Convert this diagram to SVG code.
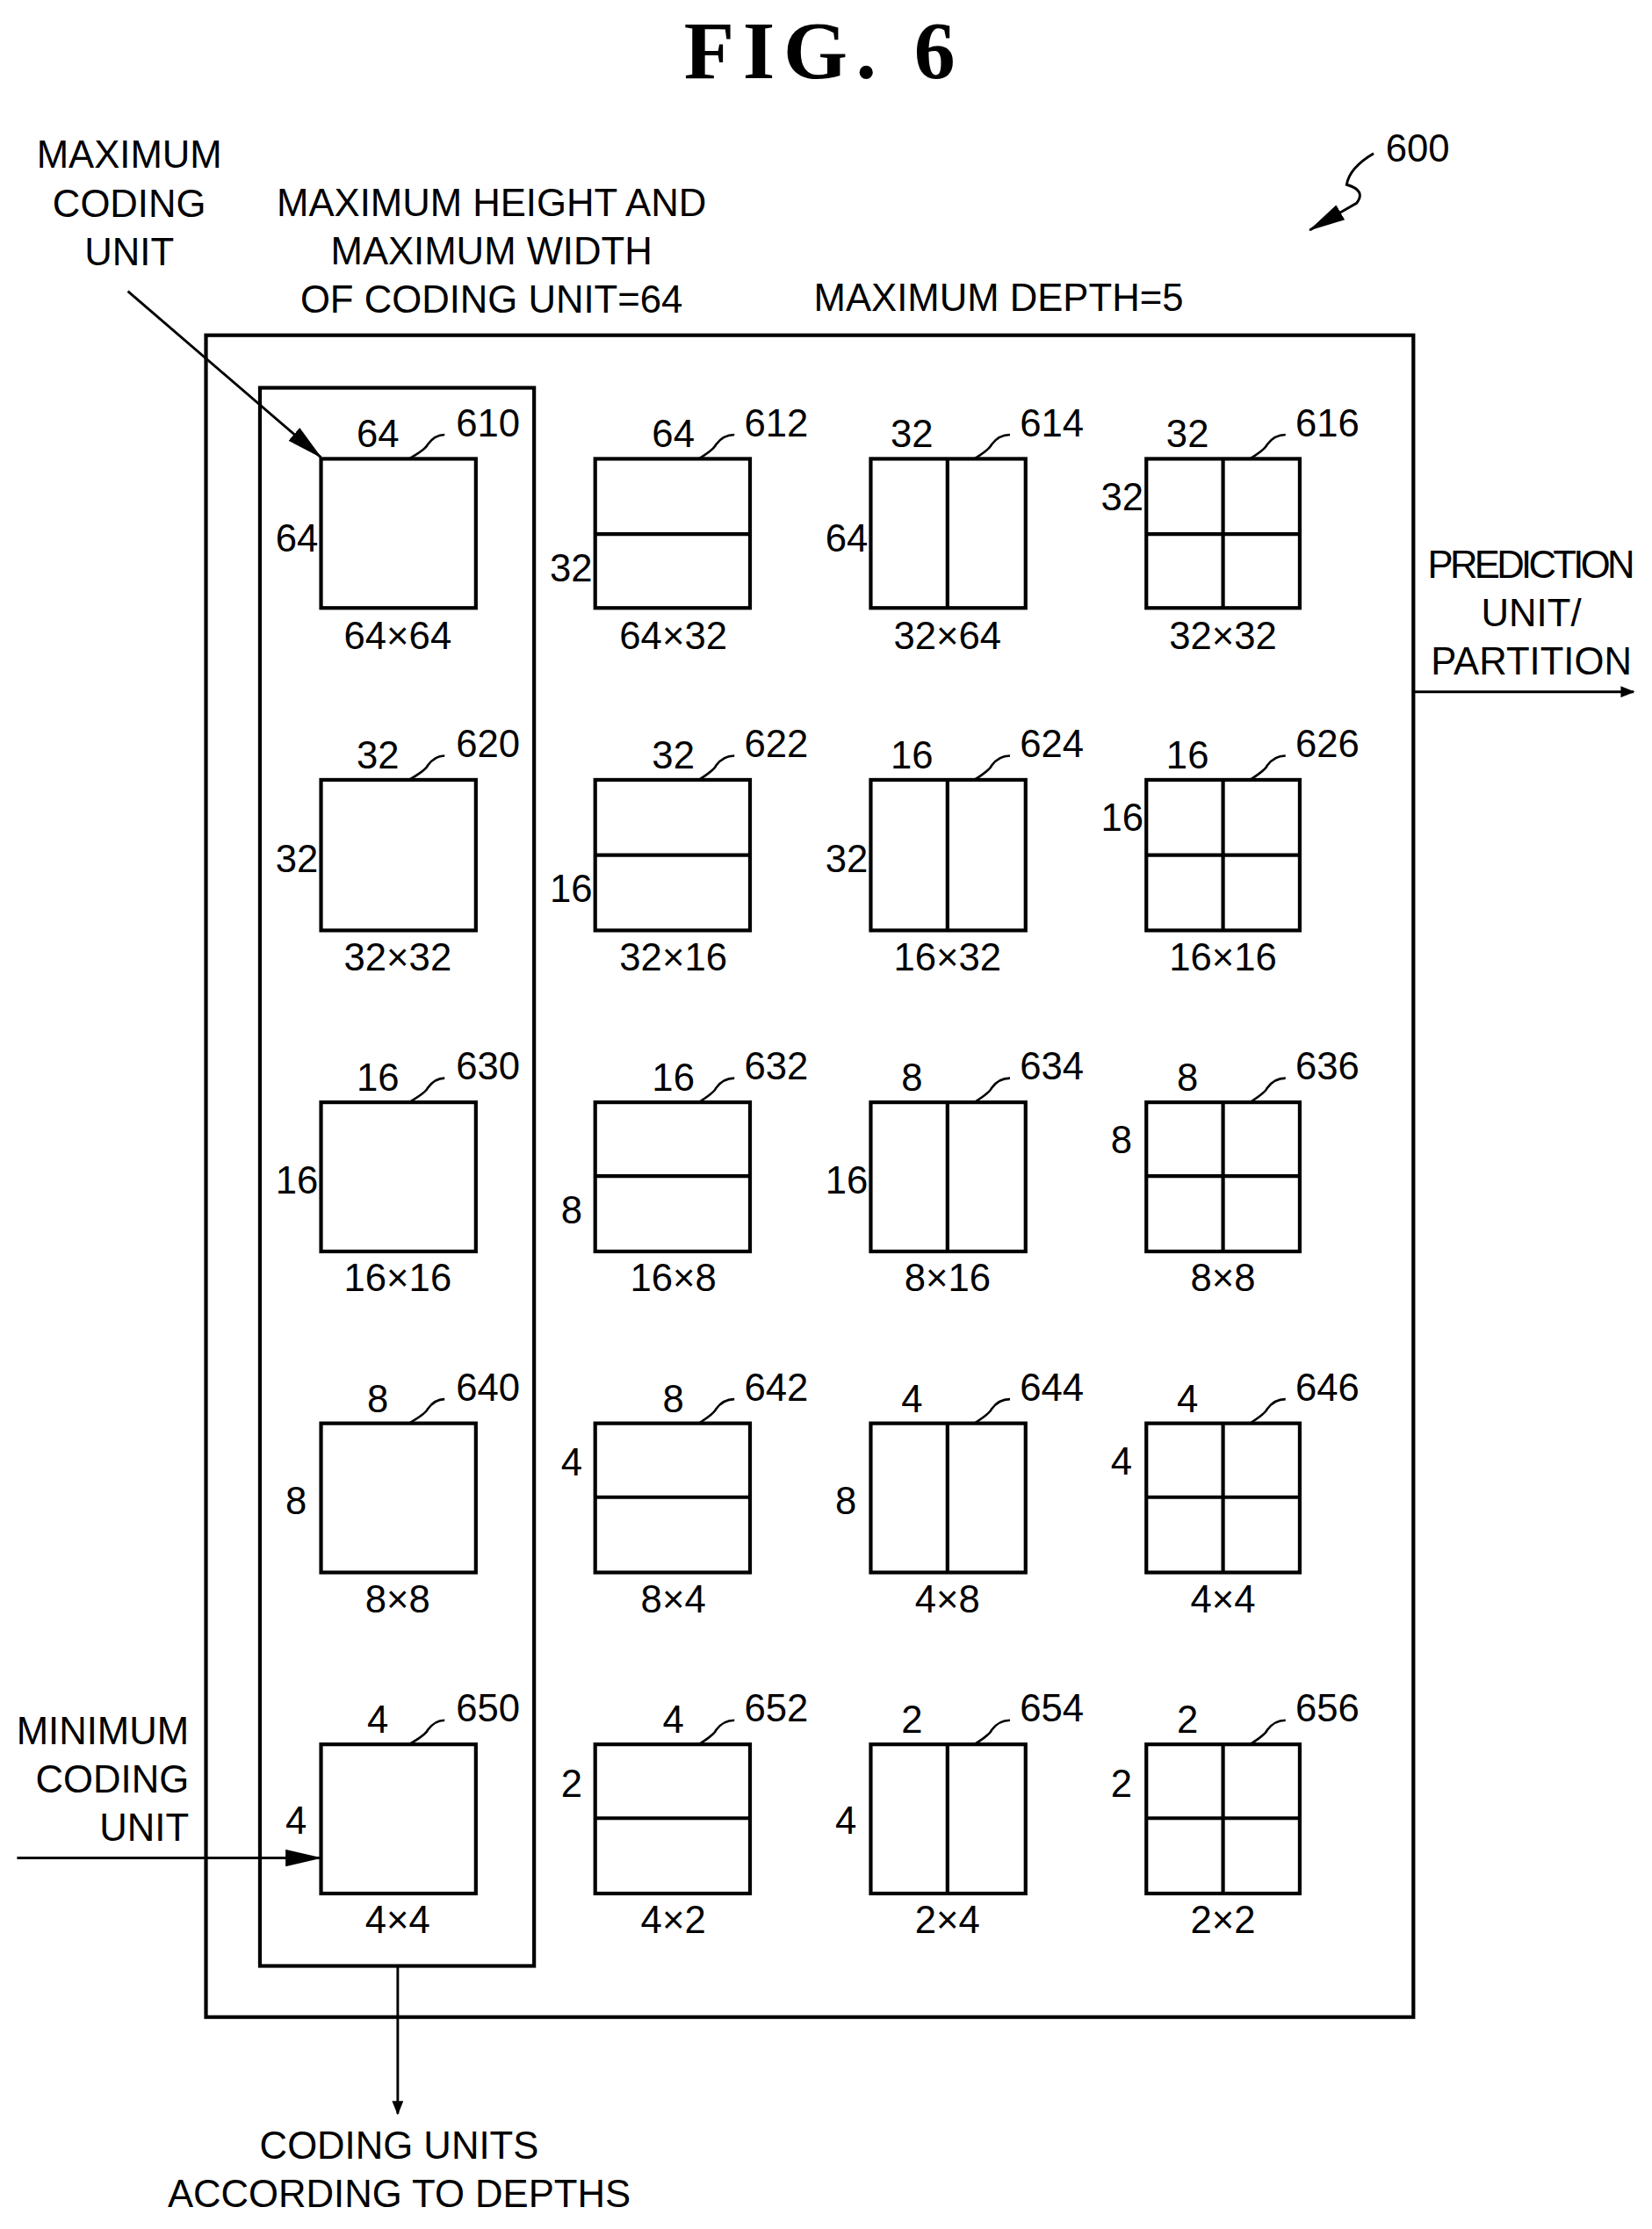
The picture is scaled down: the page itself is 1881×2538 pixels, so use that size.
<svg xmlns="http://www.w3.org/2000/svg" width="1881" height="2538" viewBox="0 0 1881 2538">
<style>
text{font-family:"Liberation Sans",Arial,sans-serif;font-size:27px;fill:#000}
.c{text-anchor:middle}.e{text-anchor:end}
.b{fill:none;stroke:#000;stroke-width:2.6}
.l{fill:none;stroke:#000;stroke-width:1.6}
.t{font-family:"Liberation Serif",serif;font-size:58px;font-weight:bold;letter-spacing:6px}
</style>
<defs><marker id="a" markerWidth="10" markerHeight="8" refX="9" refY="4" orient="auto" markerUnits="userSpaceOnUse"><path d="M0,0 L10,4 L0,8 Z" fill="#000"/></marker>
<marker id="A" markerWidth="26" markerHeight="12" refX="25" refY="6" orient="auto" markerUnits="userSpaceOnUse"><path d="M0,0 L26,6 L0,12 Z" fill="#000"/></marker></defs>
<rect width="1881" height="2538" fill="#fff"/>
<g transform="scale(1.6174)">
<text class="t c" x="580" y="55">FIG. 6</text>
<g id="labels">
<text class="c" x="91" y="118">MAXIMUM</text><text class="c" x="91" y="153">CODING</text><text class="c" x="91" y="187">UNIT</text>
<text class="c" x="346" y="152">MAXIMUM HEIGHT AND</text><text class="c" x="346" y="186">MAXIMUM WIDTH</text><text class="c" x="346" y="220">OF CODING UNIT=64</text>
<text class="c" x="703" y="219">MAXIMUM DEPTH=5</text>
<text class="c" x="998" y="114">600</text>
<text class="c" x="1078" y="407" textLength="146">PREDICTION</text><text class="c" x="1078" y="441">UNIT/</text><text class="c" x="1078" y="475">PARTITION</text>
<text class="e" x="133" y="1228">MINIMUM</text><text class="e" x="133" y="1262">CODING</text><text class="e" x="133" y="1296">UNIT</text>
<text class="c" x="281" y="1520">CODING UNITS</text><text class="c" x="281" y="1554">ACCORDING TO DEPTHS</text>
</g>
<g id="frames">
<rect class="b" x="145" y="236" width="850" height="1184"/>
<rect class="b" x="183" y="273" width="193" height="1111"/>
</g>
<g id="connectors" fill="none" stroke="#000" stroke-width="1.8">
<path d="M90,205 L226,322" marker-end="url(#A)"/>
<path d="M995,487 L1150,487" marker-end="url(#a)"/>
<path d="M12,1308 L226,1308" marker-end="url(#A)"/>
<path d="M280,1384 L280,1488" marker-end="url(#a)"/>
<path d="M967,108 Q950,118 948,130 Q962,134 955,143 L922,162" marker-end="url(#A)"/>
</g>
<g id="units">
<g id="u610"><rect class="b" x="226" y="323" width="109" height="105"/><text class="c" x="266" y="315">64</text><text x="321" y="307">610</text><path class="l" d="M288,323 Q300,316 301,313 Q306,306 313,306"/><text class="e" x="224" y="388">64</text><text class="c" x="280" y="457">64×64</text></g>
<g id="u612"><rect class="b" x="419" y="323" width="109" height="105"/><line class="b" x1="419" y1="376" x2="528" y2="376"/><text class="c" x="474" y="315">64</text><text x="524" y="307">612</text><path class="l" d="M492,323 Q503,316 504,313 Q509,306 517,306"/><text class="e" x="417" y="409">32</text><text class="c" x="474" y="457">64×32</text></g>
<g id="u614"><rect class="b" x="613" y="323" width="109" height="105"/><line class="b" x1="667" y1="323" x2="667" y2="428"/><text class="c" x="642" y="315">32</text><text x="718" y="307">614</text><path class="l" d="M686,323 Q697,316 698,313 Q703,306 711,306"/><text class="e" x="611" y="388">64</text><text class="c" x="667" y="457">32×64</text></g>
<g id="u616"><rect class="b" x="807" y="323" width="108" height="105"/><line class="b" x1="861" y1="323" x2="861" y2="428"/><line class="b" x1="807" y1="376" x2="915" y2="376"/><text class="c" x="836" y="315">32</text><text x="912" y="307">616</text><path class="l" d="M880,323 Q891,316 892,313 Q897,306 905,306"/><text class="e" x="805" y="359">32</text><text class="c" x="861" y="457">32×32</text></g>
<g id="u620"><rect class="b" x="226" y="549" width="109" height="106"/><text class="c" x="266" y="541">32</text><text x="321" y="533">620</text><path class="l" d="M288,549 Q300,542 301,539 Q306,532 313,532"/><text class="e" x="224" y="614">32</text><text class="c" x="280" y="683">32×32</text></g>
<g id="u622"><rect class="b" x="419" y="549" width="109" height="106"/><line class="b" x1="419" y1="602" x2="528" y2="602"/><text class="c" x="474" y="541">32</text><text x="524" y="533">622</text><path class="l" d="M492,549 Q503,542 504,539 Q509,532 517,532"/><text class="e" x="417" y="635">16</text><text class="c" x="474" y="683">32×16</text></g>
<g id="u624"><rect class="b" x="613" y="549" width="109" height="106"/><line class="b" x1="667" y1="549" x2="667" y2="655"/><text class="c" x="642" y="541">16</text><text x="718" y="533">624</text><path class="l" d="M686,549 Q697,542 698,539 Q703,532 711,532"/><text class="e" x="611" y="614">32</text><text class="c" x="667" y="683">16×32</text></g>
<g id="u626"><rect class="b" x="807" y="549" width="108" height="106"/><line class="b" x1="861" y1="549" x2="861" y2="655"/><line class="b" x1="807" y1="602" x2="915" y2="602"/><text class="c" x="836" y="541">16</text><text x="912" y="533">626</text><path class="l" d="M880,549 Q891,542 892,539 Q897,532 905,532"/><text class="e" x="805" y="585">16</text><text class="c" x="861" y="683">16×16</text></g>
<g id="u630"><rect class="b" x="226" y="776" width="109" height="105"/><text class="c" x="266" y="768">16</text><text x="321" y="760">630</text><path class="l" d="M288,776 Q300,769 301,766 Q306,759 313,759"/><text class="e" x="224" y="840">16</text><text class="c" x="280" y="909">16×16</text></g>
<g id="u632"><rect class="b" x="419" y="776" width="109" height="105"/><line class="b" x1="419" y1="828" x2="528" y2="828"/><text class="c" x="474" y="768">16</text><text x="524" y="760">632</text><path class="l" d="M492,776 Q503,769 504,766 Q509,759 517,759"/><text class="e" x="410" y="861">8</text><text class="c" x="474" y="909">16×8</text></g>
<g id="u634"><rect class="b" x="613" y="776" width="109" height="105"/><line class="b" x1="667" y1="776" x2="667" y2="881"/><text class="c" x="642" y="768">8</text><text x="718" y="760">634</text><path class="l" d="M686,776 Q697,769 698,766 Q703,759 711,759"/><text class="e" x="611" y="840">16</text><text class="c" x="667" y="909">8×16</text></g>
<g id="u636"><rect class="b" x="807" y="776" width="108" height="105"/><line class="b" x1="861" y1="776" x2="861" y2="881"/><line class="b" x1="807" y1="828" x2="915" y2="828"/><text class="c" x="836" y="768">8</text><text x="912" y="760">636</text><path class="l" d="M880,776 Q891,769 892,766 Q897,759 905,759"/><text class="e" x="797" y="812">8</text><text class="c" x="861" y="909">8×8</text></g>
<g id="u640"><rect class="b" x="226" y="1002" width="109" height="105"/><text class="c" x="266" y="994">8</text><text x="321" y="986">640</text><path class="l" d="M288,1002 Q300,995 301,992 Q306,985 313,985"/><text class="e" x="216" y="1066">8</text><text class="c" x="280" y="1135">8×8</text></g>
<g id="u642"><rect class="b" x="419" y="1002" width="109" height="105"/><line class="b" x1="419" y1="1054" x2="528" y2="1054"/><text class="c" x="474" y="994">8</text><text x="524" y="986">642</text><path class="l" d="M492,1002 Q503,995 504,992 Q509,985 517,985"/><text class="e" x="410" y="1039">4</text><text class="c" x="474" y="1135">8×4</text></g>
<g id="u644"><rect class="b" x="613" y="1002" width="109" height="105"/><line class="b" x1="667" y1="1002" x2="667" y2="1107"/><text class="c" x="642" y="994">4</text><text x="718" y="986">644</text><path class="l" d="M686,1002 Q697,995 698,992 Q703,985 711,985"/><text class="e" x="603" y="1066">8</text><text class="c" x="667" y="1135">4×8</text></g>
<g id="u646"><rect class="b" x="807" y="1002" width="108" height="105"/><line class="b" x1="861" y1="1002" x2="861" y2="1107"/><line class="b" x1="807" y1="1054" x2="915" y2="1054"/><text class="c" x="836" y="994">4</text><text x="912" y="986">646</text><path class="l" d="M880,1002 Q891,995 892,992 Q897,985 905,985"/><text class="e" x="797" y="1038">4</text><text class="c" x="861" y="1135">4×4</text></g>
<g id="u650"><rect class="b" x="226" y="1228" width="109" height="105"/><text class="c" x="266" y="1220">4</text><text x="321" y="1212">650</text><path class="l" d="M288,1228 Q300,1221 301,1218 Q306,1211 313,1211"/><text class="e" x="216" y="1291">4</text><text class="c" x="280" y="1361">4×4</text></g>
<g id="u652"><rect class="b" x="419" y="1228" width="109" height="105"/><line class="b" x1="419" y1="1280" x2="528" y2="1280"/><text class="c" x="474" y="1220">4</text><text x="524" y="1212">652</text><path class="l" d="M492,1228 Q503,1221 504,1218 Q509,1211 517,1211"/><text class="e" x="410" y="1265">2</text><text class="c" x="474" y="1361">4×2</text></g>
<g id="u654"><rect class="b" x="613" y="1228" width="109" height="105"/><line class="b" x1="667" y1="1228" x2="667" y2="1333"/><text class="c" x="642" y="1220">2</text><text x="718" y="1212">654</text><path class="l" d="M686,1228 Q697,1221 698,1218 Q703,1211 711,1211"/><text class="e" x="603" y="1291">4</text><text class="c" x="667" y="1361">2×4</text></g>
<g id="u656"><rect class="b" x="807" y="1228" width="108" height="105"/><line class="b" x1="861" y1="1228" x2="861" y2="1333"/><line class="b" x1="807" y1="1280" x2="915" y2="1280"/><text class="c" x="836" y="1220">2</text><text x="912" y="1212">656</text><path class="l" d="M880,1228 Q891,1221 892,1218 Q897,1211 905,1211"/><text class="e" x="797" y="1265">2</text><text class="c" x="861" y="1361">2×2</text></g>
</g>
</g>
</svg>
